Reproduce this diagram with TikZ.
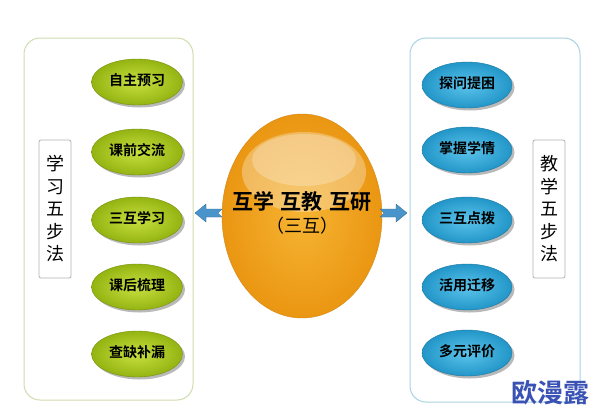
\documentclass[tikz,border=0pt]{standalone}
\usepackage{fontspec}
\setmainfont{Noto Sans CJK SC}
\newfontfamily\cjkb[BoldFont={Noto Sans CJK SC Bold}]{Noto Sans CJK SC}
\usetikzlibrary{shapes.geometric,shadings}
\definecolor{grnL}{HTML}{C8E040}
\definecolor{grnD}{HTML}{94B412}
\definecolor{bluL}{HTML}{5CC4EC}
\definecolor{bluD}{HTML}{2296C8}
\definecolor{orgL}{HTML}{F6B432}
\definecolor{orgD}{HTML}{EA9612}
\definecolor{lframe}{HTML}{CFDDAE}
\definecolor{rframe}{HTML}{A9D2E2}
\definecolor{arr}{HTML}{4A94CC}
\definecolor{wm}{HTML}{3A52B4}
\tikzset{
  frame/.style={draw, line width=1pt, rounded corners=16pt},
  vlabel/.style={draw=gray!60, line width=0.8pt, rounded corners=2pt, minimum width=32pt, minimum height=138pt, align=center, font=\fontsize{18}{22.5}\selectfont, inner sep=0pt},
  gpill/.style={ellipse, minimum width=91pt, minimum height=46pt, inner sep=0pt, outer color=grnD, inner color=grnL, draw=grnD!80!black, line width=0.4pt, font=\cjkb\bfseries\fontsize{14}{16}\selectfont, text=black},
  bpill/.style={ellipse, minimum width=90pt, minimum height=46pt, inner sep=0pt, outer color=bluD, inner color=bluL, draw=bluD!80!black, line width=0.4pt, font=\cjkb\bfseries\fontsize{14}{16}\selectfont, text=black},
  pshadow/.style={ellipse, minimum width=91pt, minimum height=46pt, fill=gray!55, inner sep=0pt},
  blockarr/.style={fill=arr, draw=arr!70!black, line width=0.3pt}
}
\begin{document}
\begin{tikzpicture}[x=1pt,y=-1pt]
\useasboundingbox[fill=white] (0,0) rectangle (594,413);
% frames
\draw[frame, lframe] (24,38) rectangle (193,400);
\draw[frame, rframe] (410,38) rectangle (580,402);
% vertical labels
\node[vlabel] (L) at (55,209) {学\\习\\五\\步\\法};
\node[vlabel] (R) at (549,209) {教\\学\\五\\步\\法};
% left pills
\foreach \y/\t/\n in {82/自主预习/g1,152/课前交流/g2,220/三互学习/g3,287/课后梳理/g4,354/查缺补漏/g5}{
  \node[pshadow] at (139.5,\y+2.5) {};
  \node[gpill] (\n) at (137,\y) {\raisebox{5pt}{\t}};
}
% right pills
\foreach \y/\t/\n in {85/探问提困/b1,150/掌握学情/b2,220/三互点拨/b3,287/活用迁移/b4,353/多元评价/b5}{
  \node[pshadow, minimum width=90pt] at (469.5,\y+2.5) {};
  \node[bpill] (\n) at (467,\y) {\raisebox{5pt}{\t}};
}
% center egg
\node[ellipse, minimum width=160pt, minimum height=204pt, inner sep=0pt, outer color=orgD, inner color=orgL, draw=orgD!90!black, line width=0.4pt] (egg) at (302,216) {};
\fill[white, opacity=0.30] (304,172) ellipse (62pt and 40pt);
\fill[white, opacity=0.25] (304,160) ellipse (52pt and 26pt);
\node[font=\cjkb\bfseries\fontsize{21}{24}\selectfont] (t1) at (302,201) {互学\,\,互教\,\,互研};
\node[font=\fontsize{18}{20}\selectfont] (t2) at (302,226) {（三互）};
% block arrows
\coordinate (la) at (195,213);
\coordinate (ra) at (407,213);
\filldraw[blockarr] (la) -- ++(11,-9) -- ++(0,5) -- ++(16,0) -- ++(-4,4) -- ++(4,4) -- ++(-16,0) -- ++(0,5) -- cycle;
\filldraw[blockarr] (ra) -- ++(-11,-9) -- ++(0,5) -- ++(-16,0) -- ++(4,4) -- ++(-4,4) -- ++(16,0) -- ++(0,5) -- cycle;
% watermark
\node[font=\cjkb\bfseries\fontsize{26}{28}\selectfont, text=wm, anchor=east] (wmk) at (593,393) {欧漫露};
\end{tikzpicture}
\end{document}
